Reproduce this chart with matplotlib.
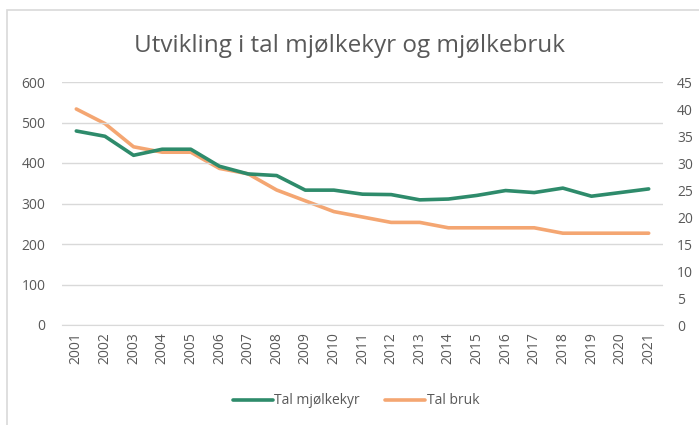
import matplotlib
matplotlib.use('Agg')
import matplotlib.pyplot as plt
from matplotlib.patches import Rectangle

# Data
years = [str(y) for y in range(2001, 2022)]
tal_mjolkekyr = [479, 466, 419, 434, 434, 392, 373, 369, 333, 333, 323, 322,
                 309, 311, 320, 332, 327, 338, 318, 327, 336]
tal_bruk = [40, 37.3, 33, 32, 32, 29, 28, 25, 23, 21, 20, 19,
            19, 18, 18, 18, 18, 17, 17, 17, 17]

GREEN = '#2e8b6b'
ORANGE = '#f4a672'
TEXT = '#595959'
GRID = '#d9d9d9'

plt.rcParams['font.family'] = ['Open Sans', 'DejaVu Sans']

fig = plt.figure(figsize=(6.99, 4.25), dpi=100)
ax = fig.add_axes([62 / 699, 100 / 425, 601 / 699, 243 / 425])
ax2 = ax.twinx()

x = list(range(len(years)))
l1, = ax.plot(x, tal_mjolkekyr, color=GREEN, linewidth=2.6,
              solid_capstyle='round', label='Tal mjølkekyr', zorder=3)
l2, = ax2.plot(x, tal_bruk, color=ORANGE, linewidth=2.6,
               solid_capstyle='round', label='Tal bruk', zorder=2)
ax.set_zorder(ax2.get_zorder() + 1)
ax.patch.set_visible(False)

ax.set_xlim(-0.5, len(years) - 0.5)
ax.set_ylim(0, 600)
ax2.set_ylim(0, 45)
ax.set_yticks(range(0, 601, 100))
ax2.set_yticks(range(0, 46, 5))
ax.set_xticks(x)
ax.set_xticklabels(years, rotation=90)

ax.grid(axis='y', color=GRID, linewidth=1.0)
ax.set_axisbelow(True)
for a in (ax, ax2):
    for s in a.spines.values():
        s.set_visible(False)
    a.tick_params(length=0, colors=TEXT, labelsize=10)
ax.spines['bottom'].set_visible(True)
ax.spines['bottom'].set_color(GRID)
ax.tick_params(axis='y', pad=12)
ax2.tick_params(axis='y', pad=10)
ax.tick_params(axis='x', pad=5)

fig.text(0.5, 1 - 46 / 425, 'Utvikling i tal mjølkekyr og mjølkebruk',
         ha='center', va='center', fontsize=17.5, color=TEXT)

fig.legend(handles=[l1, l2], loc='center', bbox_to_anchor=(356 / 699, 1 - 401 / 425),
           ncol=2, frameon=False, fontsize=10, labelcolor=TEXT,
           handlelength=2.9, handletextpad=0.1, columnspacing=1.8)

# chart border (only top and left edges fall inside the image)
fig.patches.append(Rectangle((7 / 699, -10 / 425), 720 / 699, 425 / 425,
                             transform=fig.transFigure, fill=False,
                             edgecolor=GRID, linewidth=1.2))

fig.savefig('out.png', dpi=100)
